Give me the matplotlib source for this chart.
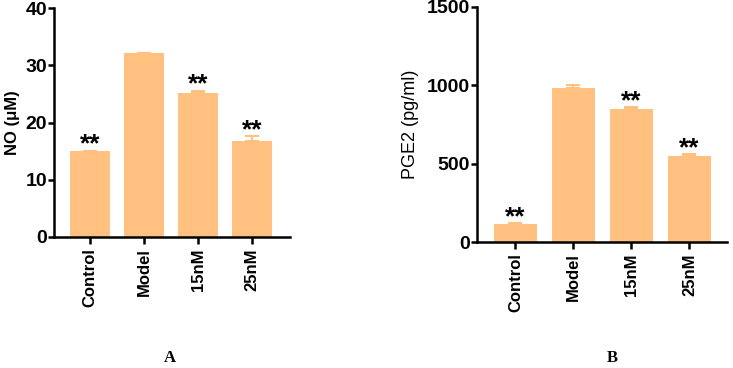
import matplotlib
matplotlib.use("Agg")
import matplotlib.pyplot as plt

groups = ["Control", "Model", "15nM", "25nM"]
no_vals = [15.0, 32.1, 25.1, 16.8]
no_err = [0.05, 0.05, 0.4, 0.8]
pge2_vals = [117, 986, 851, 550]
pge2_err = [3, 19, 11, 15]
stars = ["**", "", "**", "**"]

bar_color = "#FFC080"
plt.rcParams["font.family"] = ["Liberation Sans", "DejaVu Sans"]
plt.rcParams["font.weight"] = "bold"

fig = plt.figure(figsize=(7.33, 3.68), dpi=100)
ax1 = fig.add_axes([0.0737, 0.356, 0.322, 0.622])
ax2 = fig.add_axes([0.651, 0.342, 0.341, 0.639])


def panel(ax, vals, err, ylim, yticks, xlim, star_off):
    x = list(range(len(groups)))
    ax.bar(x, vals, width=0.74, color=bar_color, zorder=2)
    ax.errorbar(x, vals, yerr=[[0] * len(vals), err], fmt="none",
                ecolor=bar_color, elinewidth=1.5, capsize=5, capthick=1.5, zorder=1)
    for i, s in enumerate(stars):
        if s:
            ax.text(i, vals[i] + err[i] + star_off, s, ha="center", va="bottom",
                    fontsize=19, fontweight="bold")
    ax.set_ylim(*ylim)
    ax.set_xlim(*xlim)
    ax.set_yticks(yticks)
    ax.set_xticks(x)
    ax.set_xticklabels(groups, rotation=90, fontsize=12, fontweight="bold")
    ax.tick_params(axis="y", labelsize=14, width=1.8, length=4, pad=1)
    ax.tick_params(axis="x", width=1.8, length=5, pad=3)
    for sp in ["top", "right"]:
        ax.spines[sp].set_visible(False)
    for sp in ["left", "bottom"]:
        ax.spines[sp].set_linewidth(1.8)
    for lab in ax.get_yticklabels():
        lab.set_fontweight("bold")


panel(ax1, no_vals, no_err, (0, 40), [0, 10, 20, 30, 40], (-0.667, 3.7), -1.0)
panel(ax2, pge2_vals, pge2_err, (0, 1500), [0, 500, 1000, 1500], (-0.66, 3.65), -40)
ax1.set_ylabel("NO (\u03bcM)", fontsize=12, fontweight="bold", labelpad=4)
ax2.set_ylabel("PGE2 (pg/ml)", fontsize=13, fontweight="normal", labelpad=6)

fig.text(170 / 733, 1 - 358 / 368, "A", ha="center", va="center",
         family="Liberation Serif", fontsize=12, fontweight="bold")
fig.text(612 / 733, 1 - 358 / 368, "B", ha="center", va="center",
         family="Liberation Serif", fontsize=12, fontweight="bold")

fig.savefig("out.png", dpi=100)
